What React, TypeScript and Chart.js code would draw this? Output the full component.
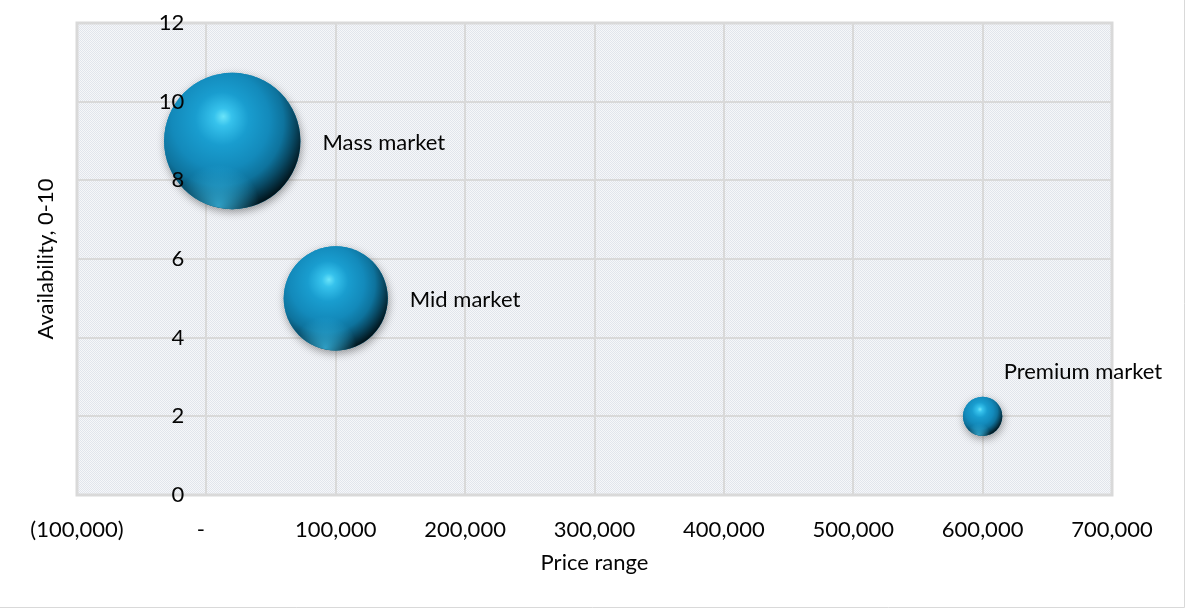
import React, { useEffect, useRef } from 'react';
import { Chart, registerables } from 'chart.js';

Chart.register(...registerables);

// ---- data ----
const categories = ['Mass market', 'Mid market', 'Premium market'];
const priceRange = [20000, 100000, 600000];
const availability = [9, 5, 2];
const bubbleSize = [60, 35, 5];
const xTickLabels = ['(100,000)', '-  ', '100,000', '200,000', '300,000', '400,000', '500,000', '600,000', '700,000'];
const yTickLabels = ['0', '2', '4', '6', '8', '10', '12'];

// ---- style ----
const FONT = 'Lato, "Open Sans", sans-serif';
const FONT_SIZE = 22;
const TEXT = '#050505';
const GRID = '#d9d9d9';
const RADIUS_PER_SQRT = 8.8;
const Y_LABEL_ANCHOR = -17000; // y tick labels sit just left of the x = 0 line
const LABEL_NUDGE: Record<number, { dx: number; dy: number }> = { 2: { dx: 21, dy: -44 } };

const radiusFor = (i: number) => RADIUS_PER_SQRT * Math.sqrt(bubbleSize[i]);

let patternCache: CanvasPattern | null = null;
function getPattern(ctx: CanvasRenderingContext2D) {
  if (patternCache) return patternCache;
  const c = document.createElement('canvas');
  c.width = 2;
  c.height = 2;
  const p = c.getContext('2d')!;
  p.fillStyle = '#f6f7f9';
  p.fillRect(0, 0, 2, 2);
  p.fillStyle = '#e1e5ec';
  p.fillRect(0, 0, 1, 1);
  p.fillRect(1, 1, 1, 1);
  patternCache = ctx.createPattern(c, 'repeat');
  return patternCache;
}

function shadeSphere(ctx: CanvasRenderingContext2D, x: number, y: number, r: number) {
  if (![x, y, r].every(Number.isFinite) || r <= 0) return;
  ctx.save();
  ctx.beginPath();
  ctx.arc(x, y, r, 0, Math.PI * 2);
  ctx.clip();
  const g = ctx.createRadialGradient(x - 0.13 * r, y - 0.36 * r, 0, x - 0.2 * r, y - 0.25 * r, 1.3 * r);
  g.addColorStop(0, '#6ae4fa');
  g.addColorStop(0.1, '#36c2ec');
  g.addColorStop(0.3, '#199dcf');
  g.addColorStop(0.55, '#138abb');
  g.addColorStop(0.72, '#0e739d');
  g.addColorStop(0.85, '#094a65');
  g.addColorStop(1, '#02161e');
  ctx.fillStyle = g;
  ctx.fillRect(x - r - 1, y - r - 1, 2 * r + 2, 2 * r + 2);
  const h = ctx.createRadialGradient(x - 0.2 * r, y + 0.95 * r, 0, x - 0.2 * r, y + 0.95 * r, 0.6 * r);
  h.addColorStop(0, 'rgba(60,195,240,0.75)');
  h.addColorStop(1, 'rgba(60,195,240,0)');
  ctx.fillStyle = h;
  ctx.fillRect(x - r - 1, y - r - 1, 2 * r + 2, 2 * r + 2);
  ctx.restore();
}

const decorPlugin = {
  id: 'decor',
  beforeDraw(chart: any) {
    const { ctx, chartArea: a } = chart;
    ctx.save();
    ctx.fillStyle = getPattern(ctx) || '#eceef2';
    ctx.fillRect(a.left, a.top, a.right - a.left, a.bottom - a.top);
    ctx.restore();
  },
  beforeDatasetsDraw(chart: any) {
    const { ctx, chartArea: a } = chart;
    ctx.save();
    ctx.strokeStyle = GRID;
    ctx.lineWidth = 3;
    ctx.strokeRect(a.left, a.top, a.right - a.left, a.bottom - a.top);
    ctx.restore();
    ctx.save();
    ctx.shadowColor = 'rgba(0,0,0,0.38)';
    ctx.shadowBlur = 9;
    ctx.shadowOffsetX = 1;
    ctx.shadowOffsetY = 3;
  },
  afterDatasetsDraw(chart: any) {
    const ctx = chart.ctx;
    ctx.restore();
    const meta = chart.getDatasetMeta(0);
    meta.data.forEach((el: any) => {
      const { x, y } = el.getProps(['x', 'y'], true);
      shadeSphere(ctx, x, y, el.options.radius);
    });
    ctx.save();
    ctx.font = `${FONT_SIZE}px ${FONT}`;
    ctx.fillStyle = TEXT;
    ctx.textAlign = 'left';
    ctx.textBaseline = 'middle';
    meta.data.forEach((el: any, i: number) => {
      const { x, y } = el.getProps(['x', 'y'], true);
      const r = el.options.radius;
      const n = LABEL_NUDGE[i];
      const lx = n ? x + n.dx : x + r + 22;
      const ly = n ? y + n.dy : y + 1.5;
      ctx.fillText(categories[i], lx, ly);
    });
    ctx.restore();
  },
  afterDraw(chart: any) {
    const ctx = chart.ctx;
    ctx.save();
    ctx.strokeStyle = GRID;
    ctx.lineWidth = 1;
    ctx.beginPath();
    ctx.moveTo(1184.5, 0);
    ctx.lineTo(1184.5, 607.5);
    ctx.lineTo(0, 607.5);
    ctx.stroke();
    ctx.restore();
  },
};

const font = { family: FONT, size: FONT_SIZE };
const noVPad = (s: any) => {
  s.paddingTop = 0;
  s.paddingBottom = 0;
};

export default function App() {
  const ref = useRef<HTMLCanvasElement>(null);
  useEffect(() => {
    if (!ref.current) return;
    const chart = new Chart(ref.current, {
      type: 'bubble',
      data: {
        datasets: [
          {
            label: 'Markets',
            data: priceRange.map((x, i) => ({ x, y: availability[i] })),
            radius: (c: any) => (c.type === 'data' ? radiusFor(c.dataIndex) : 10),
            backgroundColor: '#1590c1',
            borderWidth: 0,
          },
        ],
      },
      plugins: [decorPlugin],
      options: {
        animation: false,
        responsive: false,
        events: [],
        layout: { autoPadding: false, padding: { top: 23, right: 74, left: 0, bottom: 0 } },
        plugins: { legend: { display: false }, tooltip: { enabled: false } },
        scales: {
          x: {
            type: 'linear',
            min: -100000,
            max: 700000,
            ticks: {
              stepSize: 100000,
              autoSkip: false,
              maxRotation: 0,
              padding: 22,
              color: TEXT,
              font,
              callback: (_v: any, idx: number) => xTickLabels[idx],
            },
            grid: { color: GRID, lineWidth: 2, drawTicks: false },
            border: { display: false },
            title: { display: true, text: 'Price range', color: TEXT, font, padding: { top: 0, bottom: 34 } },
            afterFit: (s: any) => {
              s.height = 115;
            },
          },
          y: {
            type: 'linear',
            position: { x: Y_LABEL_ANCHOR } as any,
            min: 0,
            max: 12,
            ticks: {
              stepSize: 2,
              padding: 0,
              z: 1,
              color: TEXT,
              font,
              callback: (_v: any, idx: number) => yTickLabels[idx],
            },
            grid: { color: GRID, lineWidth: 2, drawTicks: false },
            border: { display: false },
            afterFit: noVPad,
          },
          yTitle: {
            type: 'linear',
            position: 'left',
            min: 0,
            max: 12,
            ticks: { display: false },
            grid: { display: false },
            border: { display: false },
            title: { display: true, text: 'Availability, 0-10', color: TEXT, font, padding: { top: 33, bottom: 0 } },
            afterFit: (s: any) => {
              s.width = 77;
              noVPad(s);
            },
          },
        },
      } as any,
    });
    return () => chart.destroy();
  }, []);
  return (
    <div style={{ position: 'absolute', left: 0, top: 0, width: 1186, height: 610, background: '#fff' }}>
      <canvas ref={ref} width={1186} height={610} style={{ display: 'block' }} />
    </div>
  );
}
